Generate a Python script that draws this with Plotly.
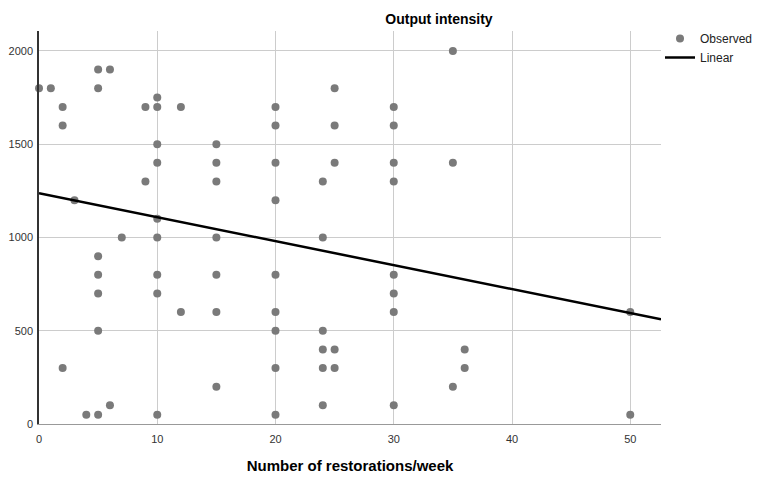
import plotly.graph_objects as go
import numpy as np

# Observed data (x = restorations/week, y = output intensity)
restorations = [0, 1, 2, 2, 3, 5, 5, 6, 7, 9, 9,
                10, 10, 10, 10, 10, 10, 12, 15, 15, 15, 15,
                20, 20, 20, 20, 24, 24, 25, 25, 25,
                35, 30, 30, 30, 30, 35,
                5, 5, 5, 5, 2, 4, 5, 6, 10, 10, 10, 12, 15, 15, 15,
                20, 20, 20, 20, 20, 24, 24, 24, 24, 25, 25,
                30, 30, 30, 30, 36, 36, 35, 50, 50]
intensity = [1800, 1800, 1700, 1600, 1200, 1900, 1800, 1900, 1000, 1700, 1300,
             1750, 1700, 1500, 1400, 1100, 1000, 1700, 1500, 1400, 1300, 1000,
             1700, 1600, 1400, 1200, 1300, 1000, 1800, 1600, 1400,
             2000, 1700, 1600, 1400, 1300, 1400,
             900, 800, 700, 500, 300, 50, 50, 100, 800, 700, 50, 600, 800, 600, 200,
             800, 600, 500, 300, 50, 500, 400, 300, 100, 400, 300,
             800, 700, 600, 100, 400, 300, 200, 600, 50]

# Linear fit parameters
fit_intercept = 1237
fit_slope = -12.84
x_range = [0, 52.6]
y_range = [0, 2107]
x_ticks = [0, 10, 20, 30, 40, 50]
y_ticks = [0, 500, 1000, 1500, 2000]

fit_x = np.array(x_range)
fit_y = fit_intercept + fit_slope * fit_x

FONT = "Liberation Sans, Arial, sans-serif"

# page body has an 8px margin, so the figure is drawn 8px smaller and offset
OFF = 8
W, H = 762 - OFF, 477 - OFF
L, R, T, B = 31, 101, 23, 53
PW, PH = W - L - R, H - T - B

fig = go.Figure()
fig.add_trace(go.Scatter(
    x=restorations, y=intensity, mode="markers", name="Observed",
    marker=dict(color="#7a7a7a", size=8, line=dict(width=0)),
    cliponaxis=False,
))
fig.add_trace(go.Scatter(
    x=fit_x, y=fit_y, mode="lines", name="Linear",
    line=dict(color="#000000", width=2.5),
))

fig.update_layout(
    width=W, height=H,
    margin=dict(l=L, r=R, t=T, b=B, autoexpand=False),
    paper_bgcolor="white", plot_bgcolor="white",
    font=dict(family=FONT, color="#222222", size=11),
    title=dict(text="<b>Output intensity</b>", x=(439 - OFF) / W, xanchor="center",
               y=1 - (19 - OFF) / H, yanchor="middle",
               font=dict(family=FONT, size=14, color="#000000")),
    legend=dict(x=(700 - 40 - OFF - L) / PW, xanchor="left",
                y=1.0 + 7 / PH, yanchor="top",
                font=dict(family=FONT, size=12, color="#222222"),
                bgcolor="rgba(0,0,0,0)", tracegroupgap=0),
    showlegend=True,
)

fig.update_xaxes(
    range=x_range, tickvals=x_ticks, ticktext=[str(t) for t in x_ticks],
    showgrid=True, gridcolor="#cccccc", gridwidth=1,
    showline=True, linecolor="#999999", linewidth=1,
    zeroline=False, ticks="outside", ticklen=5, tickcolor="rgba(0,0,0,0)",
    tickfont=dict(family=FONT, size=11, color="#333333"),
    automargin=False,
    title=dict(text="<b>Number of restorations/week</b>", standoff=16,
               font=dict(family=FONT, size=15, color="#000000")),
)
fig.update_yaxes(
    range=y_range, tickvals=y_ticks, ticktext=[str(t) for t in y_ticks],
    showgrid=True, gridcolor="#cccccc", gridwidth=1,
    showline=True, linecolor="#333333", linewidth=1.5,
    zeroline=False, ticks="outside", ticklen=2, tickcolor="rgba(0,0,0,0)",
    tickfont=dict(family=FONT, size=11, color="#333333"),
    automargin=False,
)

fig.write_html("out.html")
